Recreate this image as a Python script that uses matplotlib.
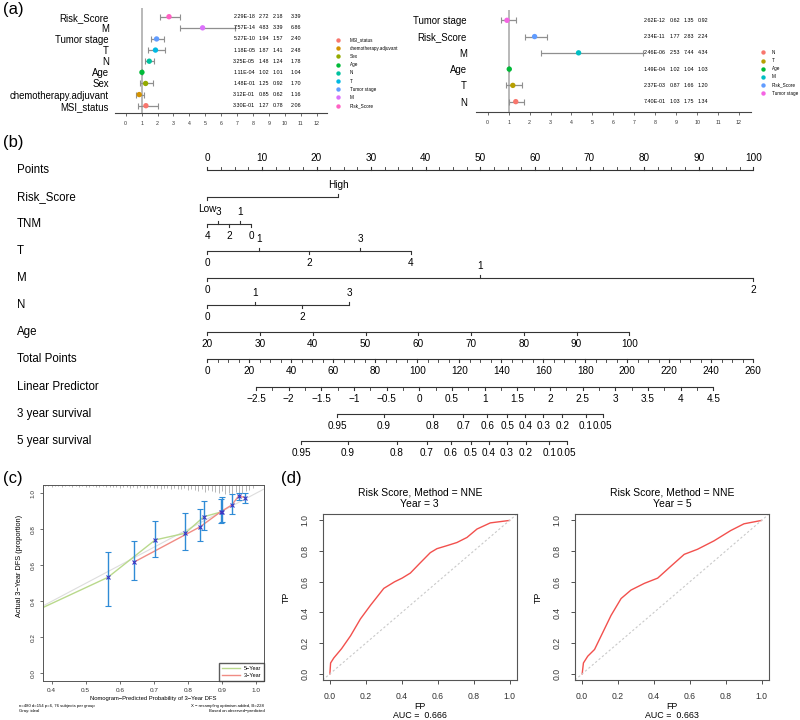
import numpy as np
import matplotlib
matplotlib.use('Agg')
import matplotlib.pyplot as plt
import matplotlib.transforms as mtransforms

plt.rcParams['font.family'] = ['Liberation Sans', 'DejaVu Sans']

# ---------------- data ----------------
# (a) univariate cox (left)
uni_vars = ['Risk_Score', 'M', 'Tumor stage', 'T', 'N', 'Age', 'Sex',
            'chemotherapy.adjuvant', 'MSI_status']
uni_p = ['2.29E-18', '7.57E-14', '5.27E-10', '1.18E-05', '3.25E-05',
         '1.11E-04', '1.48E-01', '3.12E-01', '3.30E-01']
uni_hr = [2.72, 4.83, 1.94, 1.87, 1.48, 1.02, 1.25, 0.85, 1.27]
uni_lo = [2.18, 3.39, 1.57, 1.41, 1.24, 1.01, 0.92, 0.62, 0.78]
uni_hi = [3.39, 6.86, 2.40, 2.48, 1.78, 1.04, 1.70, 1.16, 2.06]
uni_legend = ['MSI_status', 'chemotherapy.adjuvant', 'Sex', 'Age', 'N', 'T',
              'Tumor stage', 'M', 'Risk_Score']
uni_colors = ['#F8766D', '#D39200', '#93AA00', '#00BA38', '#00C19F',
              '#00B9E3', '#619CFF', '#DB72FB', '#FF61C3']

# (a) multivariate cox (right)
multi_vars = ['Tumor stage', 'Risk_Score', 'M', 'Age', 'T', 'N']
multi_p = ['2.62E-12', '2.34E-11', '2.46E-06', '1.49E-04', '2.37E-03', '7.40E-01']
multi_lo = [0.62, 1.77, 2.53, 1.02, 0.87, 1.03]
multi_hi = [1.35, 2.83, 7.44, 1.04, 1.66, 1.75]
multi_hr = [0.92, 2.24, 4.34, 1.03, 1.20, 1.34]
multi_legend = ['N', 'T', 'Age', 'M', 'Risk_Score', 'Tumor stage']
multi_colors = ['#F8766D', '#B79F00', '#00BA38', '#00BFC4', '#619CFF', '#F564E3']

# (b) nomogram
nomo_rows = ['Points', 'Risk_Score', 'TNM', 'T', 'M', 'N', 'Age', 'Total Points',
             'Linear Predictor', '3 year survival', '5 year survival']
risk_lab = ['Low', 'High']
risk_pts = [0, 24]
risk_side = [1, -1]
tnm_lab = ['4', '3', '2', '1', '0']
tnm_pts = [0, 2, 4, 6, 8]
tnm_side = [1, -1, 1, -1, 1]
t_lab = ['0', '1', '2', '3', '4']
t_pts = [0, 9.4, 18.6, 28.0, 37.3]
t_side = [1, -1, 1, -1, 1]
m_lab = ['0', '1', '2']
m_pts = [0, 50, 100]
m_side = [1, -1, 1]
n_lab = ['0', '1', '2', '3']
n_pts = [0, 8.7, 17.3, 26.0]
n_side = [1, -1, 1, -1]
age_lab = ['20', '30', '40', '50', '60', '70', '80', '90', '100']
age_pts = [0, 9.66, 19.32, 28.98, 38.64, 48.3, 57.96, 67.62, 77.28]
total_max = 260
lp_lab = ['−2.5', '−2', '−1.5', '−1', '−0.5', '0', '0.5', '1', '1.5', '2',
          '2.5', '3', '3.5', '4', '4.5']
lp_tp_range = [23.2, 241.0]          # total points at lp = -2.5 and lp = 4.5
surv_lab = ['0.95', '0.9', '0.8', '0.7', '0.6', '0.5', '0.4', '0.3', '0.2', '0.1', '0.05']
surv3_tp = [61.9, 84.1, 107.3, 121.9, 133.3, 142.9, 151.4, 160.0, 169.0, 180.2, 188.3]
surv5_tp = [44.6, 66.9, 90.2, 104.4, 115.9, 125.4, 134.1, 142.5, 151.7, 162.8, 171.1]

# (c) calibration
cal3_x = [0.641, 0.836, 0.897, 0.929, 0.949, 0.968]
cal3_y = [0.617, 0.814, 0.898, 0.935, 0.985, 0.976]
cal3_lo = [0.517, 0.735, 0.833, 0.883, 0.963, 0.944]
cal3_hi = [0.737, 0.911, 0.967, 0.994, 0.999, 0.999]
cal5_x = [0.300, 0.565, 0.704, 0.792, 0.847, 0.901]
cal5_y = [0.300, 0.533, 0.741, 0.778, 0.870, 0.898]
cal5_lo = [0.240, 0.376, 0.648, 0.685, 0.794, 0.838]
cal5_hi = [0.360, 0.672, 0.848, 0.889, 0.959, 0.981]
rug_heights = [1, 1, 2, 1, 1, 2, 1, 1, 2, 1,
               2, 1, 2, 2, 1, 2, 2, 1, 2, 2,
               2, 2, 3, 2, 2, 3, 2, 3, 2, 3,
               3, 2, 3, 3, 4, 3, 3, 4, 3, 4,
               4, 3, 5, 4, 5, 6, 4, 7, 5, 6,
               7, 8, 6, 9, 8, 10, 7, 9, 8, 6,
               5, 3]

# (d) time-dependent ROC
roc3_fp = [0, 0.004, 0.022, 0.065, 0.115, 0.17, 0.226, 0.30, 0.36, 0.402, 0.448,
           0.50, 0.559, 0.596, 0.65, 0.707, 0.763, 0.819, 0.893, 1.0]
roc3_tp = [0, 0.071, 0.104, 0.164, 0.248, 0.358, 0.447, 0.557, 0.60, 0.624, 0.657,
           0.72, 0.79, 0.816, 0.835, 0.856, 0.889, 0.944, 0.984, 1.0]
roc5_fp = [0, 0.007, 0.031, 0.069, 0.115, 0.161, 0.217, 0.272, 0.347, 0.421,
           0.494, 0.569, 0.643, 0.735, 0.828, 0.902, 1.0]
roc5_tp = [0, 0.071, 0.115, 0.159, 0.270, 0.381, 0.491, 0.546, 0.590, 0.624,
           0.701, 0.779, 0.812, 0.867, 0.934, 0.978, 1.0]
auc3, auc5 = 0.666, 0.663

# ---------------- figure ----------------
W, H = 800, 720
fig = plt.figure(figsize=(8, 7.2), dpi=100)


def px_axes(x0, y0, x1, y1):
    return fig.add_axes([x0 / W, 1 - y1 / H, (x1 - x0) / W, (y1 - y0) / H])


# full-figure pixel layer for free text / legend keys
top = fig.add_axes([0, 0, 1, 1], zorder=-1)
top.set_xlim(0, W)
top.set_ylim(H, 0)
top.axis('off')

for lab, x, y in [('(a)', 3, 9.5), ('(b)', 3, 142.5), ('(c)', 3, 479), ('(d)', 281, 478.3)]:
    top.text(x, y, lab, fontsize=12, va='center', ha='left')


def forest(box, first_row, row_step, x_zero, x_unit, names, hr, lo, hi, cols,
           col_px, colmap, label_right):
    ax = px_axes(*box)
    n = len(names)
    rows = np.arange(n)
    ax.set_xlim((box[0] - x_zero) / x_unit, (box[2] - x_zero) / x_unit)
    ax.set_ylim((box[3] - first_row) / row_step, (box[1] - first_row) / row_step)
    ax.axvline(1, color='#a5a5a5', lw=1.1, zorder=1)
    hr = np.array(hr)
    lo = np.array(lo)
    hi = np.array(hi)
    eb = ax.errorbar(hr, rows, xerr=[hr - lo, hi - hr], fmt='none', ecolor='#8f8f8f',
                     elinewidth=0.9, capsize=2.3, capthick=0.8, zorder=2)
    for cl in eb[1]:
        cl.set_color('#3a3a3a')
    ax.scatter(hr, rows, s=15, c=[colmap[nm] for nm in names], zorder=3, linewidths=0)
    for i in range(n):
        for xp, col in zip(col_px, cols):
            ax.text((xp - x_zero) / x_unit, i, col[i], fontsize=3.9, va='center', ha='left')
    ax.set_xticks(range(13))
    ax.tick_params(axis='x', length=2.5, width=0.5, labelsize=3.8, pad=3, colors='#333333')
    ax.set_yticks(rows)
    ax.set_yticklabels(names, fontsize=6.9)
    ax.tick_params(axis='y', length=0, pad=(box[0] - label_right) * 0.72)
    for s in ['top', 'left', 'right']:
        ax.spines[s].set_visible(False)
    ax.spines['bottom'].set_color('#444444')
    ax.spines['bottom'].set_linewidth(0.8)
    ax.patch.set_alpha(0)
    return ax


def dot_legend(x_dot, x_text, first, step, names, colors):
    for i, (nm, c) in enumerate(zip(names, colors)):
        y = first + i * step
        top.scatter([x_dot], [y], s=10, color=c, linewidths=0)
        top.text(x_text, y, nm, fontsize=3.3, va='center', ha='left')


uni_map = dict(zip(uni_legend, uni_colors))
forest((115, 8, 326.7, 113.3), 16.7, 11.125, 125.7, 15.92, uni_vars,
       uni_hr, uni_lo, uni_hi,
       [uni_p, ['%.2f' % v for v in uni_hr], ['%.2f' % v for v in uni_lo],
        ['%.2f' % v for v in uni_hi]],
       [233.3, 259, 272.7, 291], uni_map, 108.7)
dot_legend(337.5, 350, 40, 8.21, uni_legend, uni_colors)

multi_map = dict(zip(multi_legend, multi_colors))
forest((476, 10, 751, 112), 20.3, 16.27, 487.7, 20.94, multi_vars,
       multi_hr, multi_lo, multi_hi,
       [multi_p, ['%.2f' % v for v in multi_lo], ['%.2f' % v for v in multi_hi],
        ['%.2f' % v for v in multi_hr]],
       [643.3, 669.3, 683.3, 697.7], multi_map, 466.7)
dot_legend(763, 771.7, 52.3, 8.2, multi_legend, multi_colors)

# ---------------- (b) nomogram ----------------
pts_x0, pts_px = 207.3, 5.46
row0, row_dy = 170, 27.07
nomo = px_axes(0, 145, 800, 465)
nomo.set_xlim(-pts_x0 / pts_px, (W - pts_x0) / pts_px)
nomo.set_ylim((465 - row0) / row_dy, (145 - row0) / row_dy)
nomo.axis('off')
tick = 3.0 / row_dy
off = 12.0 / row_dy
lc = '#333333'


def nomo_axis(row, pos, labels, sides, minor=(), minor_side=1):
    nomo.plot([min(pos), max(pos)], [row, row], color=lc, lw=0.8, solid_capstyle='butt')
    for p, lab, s in zip(pos, labels, sides):
        nomo.plot([p, p], [row, row + s * tick], color=lc, lw=0.8)
        nomo.text(p, row + s * off, lab, ha='center', va='center', fontsize=7.2)
    for p in minor:
        nomo.plot([p, p], [row, row + minor_side * tick], color=lc, lw=0.6)


lbl_tr = mtransforms.blended_transform_factory(fig.transFigure, nomo.transData)
for i, nm in enumerate(nomo_rows):
    nomo.text(17 / W, i, nm, transform=lbl_tr, fontsize=8.3, va='center', ha='left')

pts_major = np.arange(0, 101, 10)
pts_minor = np.arange(0, 100.1, 2.5)
nomo_axis(0, pts_major, [str(v) for v in pts_major], [-1] * len(pts_major),
          minor=pts_minor, minor_side=-1)
nomo_axis(1, risk_pts, risk_lab, risk_side)
nomo_axis(2, tnm_pts, tnm_lab, tnm_side)
nomo_axis(3, t_pts, t_lab, t_side)
nomo_axis(4, m_pts, m_lab, m_side)
nomo_axis(5, n_pts, n_lab, n_side)
nomo_axis(6, age_pts, age_lab, [1] * len(age_pts))

tp_major = np.arange(0, total_max + 1, 20)
tp_minor = np.arange(0, total_max + 1, 5)
nomo_axis(7, tp_major * 100 / total_max, [str(v) for v in tp_major], [1] * len(tp_major),
          minor=tp_minor * 100 / total_max)

lp_vals = np.arange(-2.5, 4.51, 0.5)
lp_minor = np.arange(-2.5, 4.51, 0.25)
lp_scale = (lp_tp_range[1] - lp_tp_range[0]) / (lp_vals[-1] - lp_vals[0])
lp_to_pts = lambda v: (lp_tp_range[0] + (v - lp_vals[0]) * lp_scale) * 100 / total_max
nomo_axis(8, lp_to_pts(lp_vals), lp_lab, [1] * len(lp_vals), minor=lp_to_pts(lp_minor))
nomo_axis(9, np.array(surv3_tp) * 100 / total_max, surv_lab, [1] * len(surv_lab))
nomo_axis(10, np.array(surv5_tp) * 100 / total_max, surv_lab, [1] * len(surv_lab))

# ---------------- (c) calibration ----------------
cal = px_axes(42.7, 485, 264.3, 680.7)
cal.set_xlim(0.3736, 1.0244)
cal.set_ylim(-0.041, 1.046)
cal.plot([0, 1.1], [0, 1.1], color='#dddddd', lw=0.8, zorder=1)
cal.plot(cal5_x, cal5_y, color='#b9d98c', lw=1.0, zorder=2)
cal.plot(cal3_x, cal3_y, color='#f08c84', lw=1.0, zorder=2)
for xs, ys, los, his in [(cal5_x, cal5_y, cal5_lo, cal5_hi), (cal3_x, cal3_y, cal3_lo, cal3_hi)]:
    ys = np.array(ys)
    cal.errorbar(xs, ys, yerr=[ys - np.array(los), np.array(his) - ys], fmt='none',
                 ecolor='#2f8bd6', elinewidth=1.0, capsize=2.0, capthick=0.8, zorder=3)
    cal.plot(xs, ys, 'x', color='#3a36c4', ms=2.6, mew=0.8, zorder=4)
rug_x = np.arange(0.38, 0.995, 0.01)[:len(rug_heights)]
rug_top = cal.get_ylim()[1]
cal.vlines(rug_x, rug_top - np.array(rug_heights) / 180.0, rug_top, color='#9a9a9a', lw=0.5)
cal.set_xticks(np.arange(0.4, 1.01, 0.1))
cal.set_xticklabels(['0.4', '0.5', '0.6', '0.7', '0.8', '0.9', '1.0'])
cal.set_yticks(np.arange(0, 1.01, 0.2))
cal.set_yticklabels(['0.0', '0.2', '0.4', '0.6', '0.8', '1.0'], rotation=90, va='center')
cal.tick_params(length=2, width=0.5, labelsize=4.6, colors='#333333')
cal.tick_params(axis='x', pad=3.3)
cal.tick_params(axis='y', pad=3)
for s in cal.spines.values():
    s.set_color('#555555')
    s.set_linewidth(0.7)
cal.legend(handles=[plt.Line2D([], [], color='#b9d98c', lw=1.0, label='5−Year'),
                    plt.Line2D([], [], color='#f08c84', lw=1.0, label='3−Year')],
           loc='lower right', fontsize=4, frameon=True, fancybox=False, edgecolor='#333333',
           borderaxespad=0, handlelength=3.2, labelspacing=0.35, borderpad=0.5)
top.text(153.5, 698.7, 'Nomogram−Predicted Probability of 3−Year DFS', fontsize=4.2,
         ha='center', va='center')
top.text(20, 566, 'Actual 3−Year DFS (proportion)', fontsize=5.3, rotation=90,
         ha='center', va='center')
top.text(19, 706, 'n=480 d=154 p=6, 76 subjects per group', fontsize=3.1, va='center')
top.text(19, 711, 'Gray: ideal', fontsize=3.1, va='center')
top.text(264.3, 706, 'X − resampling optimism added, B=228', fontsize=3.1, va='center', ha='right')
top.text(264.3, 711, 'Based on observed−predicted', fontsize=3.1, va='center', ha='right')


# ---------------- (d) ROC ----------------
def roc_panel(box, fp, tp, year, auc, tp_x):
    ax = px_axes(*box)
    ax.plot(fp, tp, color='#f2504d', lw=1.0)
    ax.axline((0, 0), (1, 1), color='#c9c9c9', lw=0.8, ls=(0, (2, 2)))
    ax.set_xlim(-0.04, 1.04)
    ax.set_ylim(-0.04, 1.04)
    tk = np.arange(0, 1.01, 0.2)
    tl = ['0.0', '0.2', '0.4', '0.6', '0.8', '1.0']
    ax.set_xticks(tk)
    ax.set_xticklabels(tl)
    ax.set_yticks(tk)
    ax.set_yticklabels(tl, rotation=90, va='center')
    ax.tick_params(length=3, width=0.6, labelsize=6.2, colors='#333333')
    ax.tick_params(axis='x', pad=5.5)
    ax.tick_params(axis='y', pad=6.5)
    for s in ax.spines.values():
        s.set_color('#555555')
        s.set_linewidth(0.8)
    ax.set_title('Risk Score, Method = NNE\nYear = %d' % year, fontsize=7.5, pad=5,
                 linespacing=1.25)
    cx = (box[0] + box[2]) / 2
    top.text(cx, 706.5, 'FP', fontsize=6.4, ha='center', va='center')
    top.text(cx, 716, 'AUC =  %.3f' % auc, fontsize=6.4, ha='center', va='center')
    top.text(tp_x, (box[1] + box[3]) / 2, 'TP', fontsize=6.4, rotation=90,
             ha='center', va='center')


roc_panel((322.7, 514.3, 516.7, 680), roc3_fp, roc3_tp, 3, auc3, 286.7)
roc_panel((575, 514.3, 768.7, 680), roc5_fp, roc5_tp, 5, auc5, 538.3)

fig.savefig('out.png', dpi=100)
